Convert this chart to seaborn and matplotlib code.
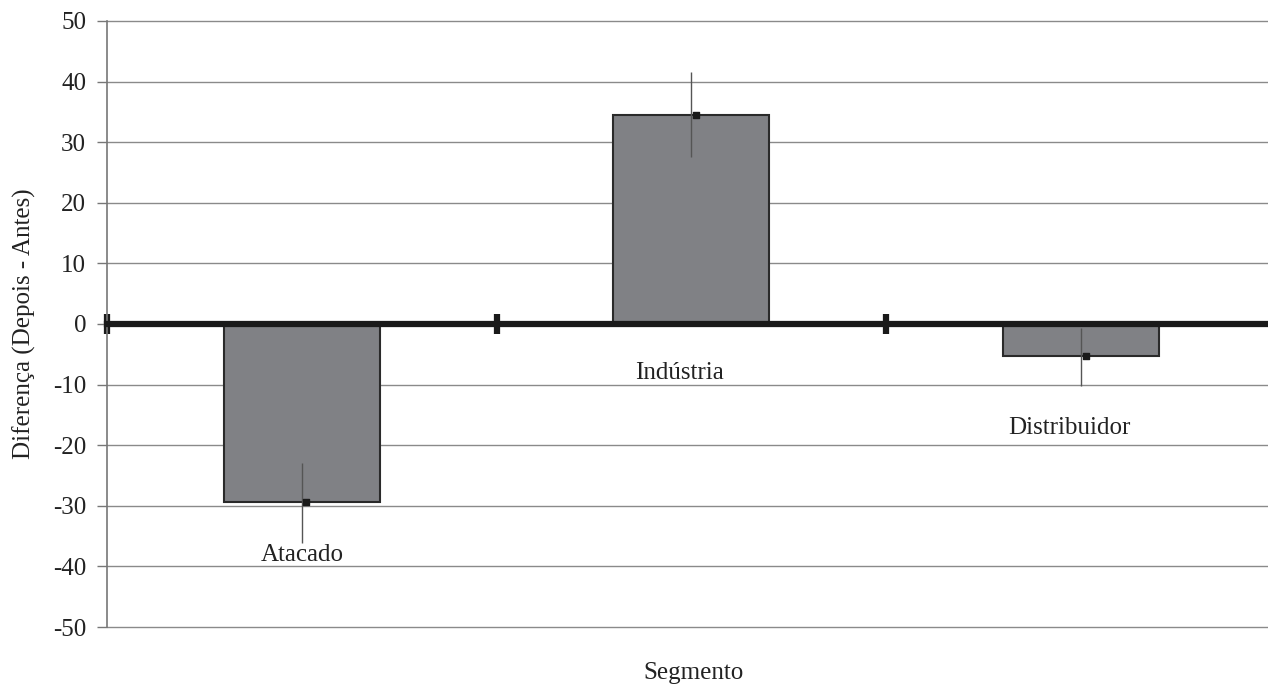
import numpy as np
import pandas as pd
import seaborn as sns
import matplotlib.pyplot as plt

# data
segmentos = ['Atacado', 'Indústria', 'Distribuidor']
diferenca = [-29.4, 34.5, -5.2]
erro_baixo = [-36.2, 27.6, -10.2]   # lower end of the whisker
erro_alto = [-22.9, 41.6, -0.6]     # upper end of the whisker
rotulo_y = [-38.1, -8.1, -17.2]     # where the category names sit

df = pd.DataFrame({'Segmento': segmentos, 'Diferenca': diferenca})

sns.set_style('white')
plt.rcParams['font.family'] = ['Liberation Serif', 'DejaVu Serif']
plt.rcParams['axes.unicode_minus'] = False

fig = plt.figure(figsize=(12.68, 6.86), dpi=100)
ax = fig.add_axes([0.0844, 0.086, 0.9156, 0.8834])

# grid first so bars sit on top
ax.set_ylim(-50, 50)
ax.set_yticks(np.arange(-50, 51, 10))
ax.yaxis.grid(True, color='#8a8a8a', lw=1.0)
ax.set_axisbelow(True)

sns.barplot(data=df, x='Segmento', y='Diferenca', order=segmentos, width=0.4,
            color='#808185', saturation=1, edgecolor='#2a2a2a', linewidth=1.5,
            errorbar=None, ax=ax)

# whiskers and the little black square at the bar end
xs = np.arange(len(segmentos))
media = np.array(diferenca)
yerr = [media - np.array(erro_baixo), np.array(erro_alto) - media]
ax.errorbar(xs, media, yerr=yerr, fmt='none', ecolor='#555555', elinewidth=1.0, capsize=0, zorder=4)
ax.scatter(xs + 0.012, media, marker='s', s=22, color='#1a1a1a', zorder=5)

# category names as labels under / beside the bars
for x, nome, y in zip(xs, segmentos, rotulo_y):
    ax.text(x - 0.03 * (x > 0), y, nome, ha='center', va='center', fontsize=18, color='#222222')

ax.set_xlim(-0.5, 2.48)

# x axis drawn as a thick line at zero with tick marks between categories
ax.spines['bottom'].set_position(('data', 0))
ax.spines['bottom'].set_linewidth(4.5)
ax.spines['bottom'].set_color('#1a1a1a')
ax.spines['bottom'].set_zorder(6)
ax.set_xticks([-0.5, 0.5, 1.5])
ax.set_xticklabels([])
ax.tick_params(axis='x', bottom=True, direction='inout', length=14, width=4.5, color='#1a1a1a')

ax.spines['left'].set_color('#777777')
ax.spines['left'].set_linewidth(1.2)
ax.spines['left'].set_zorder(1)
ax.spines['top'].set_visible(False)
ax.spines['right'].set_visible(False)
ax.tick_params(axis='y', direction='out', length=7, width=1, color='#777777', pad=8,
               labelsize=18, labelcolor='#222222', left=True)
for gl in ax.get_ygridlines():
    gl.set_clip_on(False)

ax.set_ylabel('Diferença (Depois - Antes)', fontsize=18, color='#222222', labelpad=12)
ax.set_xlabel('Segmento', fontsize=18, color='#222222')
ax.xaxis.set_label_coords(0.505, -0.058)

fig.savefig('out.png', dpi=100)
